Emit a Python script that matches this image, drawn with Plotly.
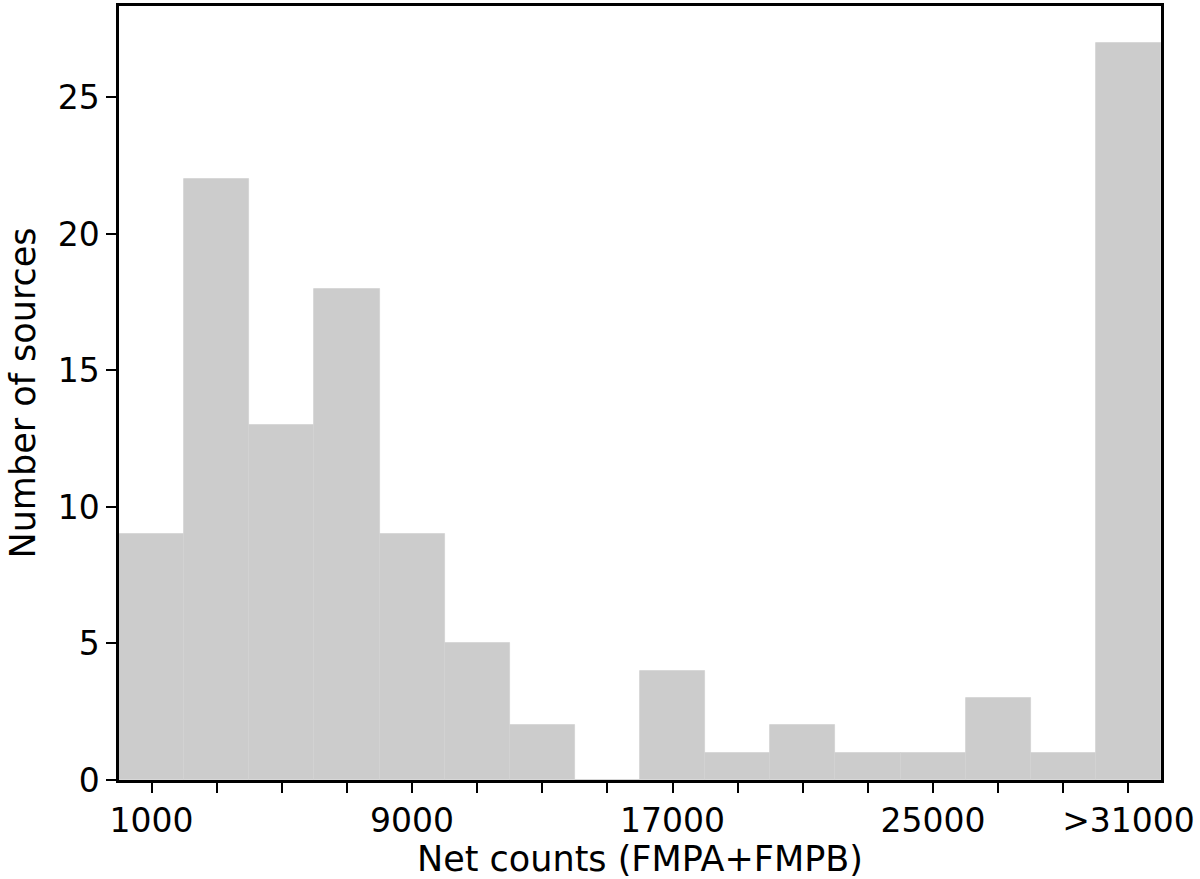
import plotly.graph_objects as go

bin_centers = [1000, 3000, 5000, 7000, 9000, 11000, 13000, 15000,
               17000, 19000, 21000, 23000, 25000, 27000, 29000, 31000]
counts = [9, 22, 13, 18, 9, 5, 2, 0, 4, 1, 2, 1, 1, 3, 1, 27]
tick_labels = ["1000", "", "", "", "9000", "", "", "", "17000", "", "", "",
               "25000", "", "", ">31000"]
bin_width = 2000

fig = go.Figure()
fig.add_trace(go.Bar(
    x=bin_centers, y=counts, width=[bin_width] * len(bin_centers),
    marker=dict(color="#cccccc", line=dict(color="#d2d2d2", width=0.8)),
    showlegend=False,
))

tick_font = dict(family="DejaVu Sans", size=33, color="black")
title_font = dict(family="DejaVu Sans", size=35, color="black")
fig.update_layout(
    width=1200, height=879,
    margin=dict(l=119, r=39, t=3, b=99),
    paper_bgcolor="white", plot_bgcolor="white",
    font=tick_font, bargap=0,
)
fig.update_xaxes(
    range=[0, 32000], tickmode="array", tickvals=bin_centers, ticktext=tick_labels,
    ticks="outside", ticklen=10, tickwidth=2, tickcolor="black",
    showline=True, linecolor="black", linewidth=2.5, mirror=True,
    showgrid=False, zeroline=False,
    title=dict(text="Net counts (FMPA+FMPB)", font=title_font, standoff=4),
    tickfont=tick_font,
)
fig.update_yaxes(
    range=[0, 28.35], tickvals=[0, 5, 10, 15, 20, 25],
    ticks="outside", ticklen=10, tickwidth=2, tickcolor="black",
    showline=True, linecolor="black", linewidth=2.5, mirror=True,
    showgrid=False, zeroline=False,
    title=dict(text="Number of sources", font=title_font, standoff=12),
    tickfont=tick_font,
)
fig.write_html("out.html", config={"displayModeBar": False},
               post_script="document.body.style.margin='0';")
